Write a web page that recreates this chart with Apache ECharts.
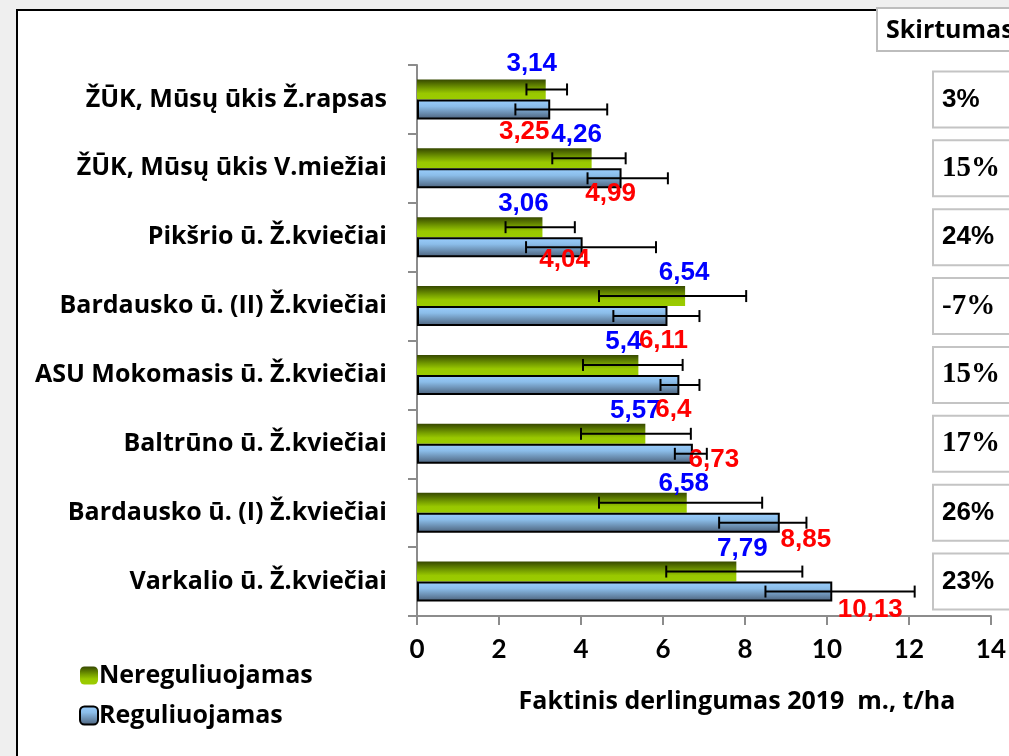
<!DOCTYPE html>
<html><head><meta charset="utf-8">
<script src="https://cdn.jsdelivr.net/npm/echarts@6/dist/echarts.min.js"></script>
<style>html,body{margin:0;padding:0;background:#efefef}#c{width:1009px;height:756px}</style>
</head><body><div id="c"></div>
<script>
// ---- data ----
const categories = ['ŽŪK, Mūsų ūkis Ž.rapsas','ŽŪK, Mūsų ūkis V.miežiai','Pikšrio ū. Ž.kviečiai','Bardausko ū. (II) Ž.kviečiai','ASU Mokomasis ū. Ž.kviečiai','Baltrūno ū. Ž.kviečiai','Bardausko ū. (I) Ž.kviečiai','Varkalio ū. Ž.kviečiai'];
const seriesNames = ['Nereguliuojamas','Reguliuojamas'];
const nereguliuojamas = [3.14,4.26,3.06,6.54,5.4,5.57,6.58,7.79];
const reguliuojamas = [3.25,4.99,4.04,6.11,6.4,6.73,8.85,10.13];
const nereguliuojamasErrLow = [2.67,3.30,2.16,4.44,4.05,4.00,4.44,6.08];
const nereguliuojamasErrHigh = [3.66,5.09,3.85,8.03,6.48,6.68,8.42,9.40];
const reguliuojamasErrLow = [2.40,4.16,2.66,4.79,5.94,6.29,7.37,8.50];
const reguliuojamasErrHigh = [4.64,6.12,5.83,6.89,6.89,7.07,9.50,12.14];
const skirtumas = ['3%','15%','24%','-7%','15%','17%','26%','23%'];
const skirtumasTitle = 'Skirtumas';
const xAxisTitle = 'Faktinis derlingumas 2019  m., t/ha';
const xMin = 0, xMax = 14, xInterval = 2;

// ---- style (label nudges, fonts) ----
const greenLabelNudge = [[-14,-3],[-15,0],[-19,0],[-1,0],[-15,0],[-10,0],[-3,4],[6,0]];
const redLabelNudge = [[-26,-1],[-11,-7],[-18,-10],[-4,2],[-6,2],[21,-17],[26,-6],[38,-5]];
const pctFonts = ['sans','serif','sans','serif','serif','serif','sans','sans'];
const UI_FONT = 'Open Sans';

const fmt = v => String(v).replace('.', ',');
const BW = 20;

const chart = echarts.init(document.getElementById('c'), null, {renderer:'canvas'});

const greenGrad = new echarts.graphic.LinearGradient(0,0,0,1,[
  {offset:0,color:'#364800'},{offset:0.45,color:'#769e00'},{offset:0.7,color:'#99c800'},{offset:1,color:'#9bcc00'}]);
const blueGrad = new echarts.graphic.LinearGradient(0,0,0,1,[
  {offset:0,color:'#9ccfff'},{offset:0.35,color:'#8bbde9'},{offset:1,color:'#4a5f78'}]);

function errSeries(name, low, high, dir){
  return {
    type:'custom', name: name+'_err', silent:true, z:5,
    data: categories.map((c,i)=>[i, low[i], high[i]]),
    encode:{x:[1,2], y:0},
    renderItem:function(params, api){
      const i = api.value(0);
      const p1 = api.coord([api.value(1), i]);
      const p2 = api.coord([api.value(2), i]);
      const y = p1[1] + dir*BW/2;
      const h = 6;
      const st = {stroke:'#000', lineWidth:2};
      return {type:'group', children:[
        {type:'line', shape:{x1:p1[0],y1:y,x2:p2[0],y2:y}, style:st},
        {type:'line', shape:{x1:p1[0],y1:y-h,x2:p1[0],y2:y+h}, style:st},
        {type:'line', shape:{x1:p2[0],y1:y-h,x2:p2[0],y2:y+h}, style:st}
      ]};
    }
  };
}

const option = {
  backgroundColor:'#efefef',
  animation:false,
  grid:{left:417, right:15, top:65, bottom:140, containLabel:false},
  legend:{
    orient:'vertical', left:74, top:658, itemWidth:18, itemHeight:18, itemGap:15,
    data: seriesNames,
    textStyle:{fontFamily:UI_FONT, fontWeight:'bold', fontSize:25, color:'#000', padding:[0,0,0,-4]}
  },
  xAxis:{
    type:'value', min:xMin, max:xMax, interval:xInterval,
    name:xAxisTitle, nameLocation:'middle', nameGap:73,
    nameTextStyle:{fontFamily:UI_FONT, fontWeight:'bold', fontSize:25, color:'#000', padding:[0,0,0,66]},
    axisLine:{show:true, lineStyle:{color:'#8c8c8c', width:2}},
    axisTick:{show:true, length:9, lineStyle:{color:'#8c8c8c', width:2}},
    axisLabel:{fontFamily:'Lato', fontWeight:'bold', fontSize:26, color:'#000', margin:21},
    splitLine:{show:false}
  },
  yAxis:{
    type:'category', data:categories, inverse:true,
    axisLine:{show:true, lineStyle:{color:'#8c8c8c', width:2}},
    axisTick:{show:true, length:9, lineStyle:{color:'#8c8c8c', width:2}},
    axisLabel:{fontFamily:UI_FONT, fontWeight:'bold', fontSize:25, color:'#000', margin:30}
  },
  series:[
    {
      name:seriesNames[0], type:'bar', barWidth:BW, barGap:'0%', z:2,
      itemStyle:{color:greenGrad},
      data: nereguliuojamas.map((v,i)=>({value:v, label:{offset:greenLabelNudge[i]}})),
      label:{show:true, position:['100%',0], align:'center', verticalAlign:'bottom',
        formatter:p=>fmt(p.value), color:'#0000ff', fontFamily:'Liberation Sans', fontWeight:'bold', fontSize:26}
    },
    {
      name:seriesNames[1], type:'bar', barWidth:BW, barGap:'0%', z:2,
      itemStyle:{color:blueGrad, borderColor:'#000', borderWidth:2},
      data: reguliuojamas.map((v,i)=>({value:v, label:{offset:redLabelNudge[i]}})),
      label:{show:true, position:['100%','100%'], align:'center', verticalAlign:'top',
        formatter:p=>fmt(p.value), color:'#ff0000', fontFamily:'Liberation Sans', fontWeight:'bold', fontSize:26}
    },
    errSeries(seriesNames[0], nereguliuojamasErrLow, nereguliuojamasErrHigh, -1),
    errSeries(seriesNames[1], reguliuojamasErrLow, reguliuojamasErrHigh, 1)
  ]
};
chart.setOption(option);

// frame + Skirtumas boxes
const g = [
  {type:'rect', z:-10, shape:{x:17,y:10,width:1200,height:900}, style:{fill:'#fff', stroke:'#000', lineWidth:2}},
  {type:'rect', z:10, shape:{x:877,y:8,width:200,height:43}, style:{fill:'#fff', stroke:'#bdbdbd', lineWidth:2}},
  {type:'text', z:11, x:886, y:31, style:{text:skirtumasTitle, fontFamily:UI_FONT, fontWeight:'bold', fontSize:25, fill:'#000', textVerticalAlign:'middle'}}
];
skirtumas.forEach((t,i)=>{
  const cy = chart.convertToPixel({yAxisIndex:0}, i);
  g.push({type:'rect', z:10, shape:{x:933,y:cy-28,width:120,height:56}, style:{fill:'#fff', stroke:'#c4c4c4', lineWidth:2}});
  const serif = pctFonts[i]==='serif';
  g.push({type:'text', z:11, x:942, y:cy, style:{text:t,
    fontFamily: serif ? 'Liberation Serif' : 'Liberation Sans',
    fontWeight:'bold', fontSize: serif ? 29 : 26, fill:'#000', textVerticalAlign:'middle'}});
});
chart.setOption({graphic:g});
</script>
</body></html>
